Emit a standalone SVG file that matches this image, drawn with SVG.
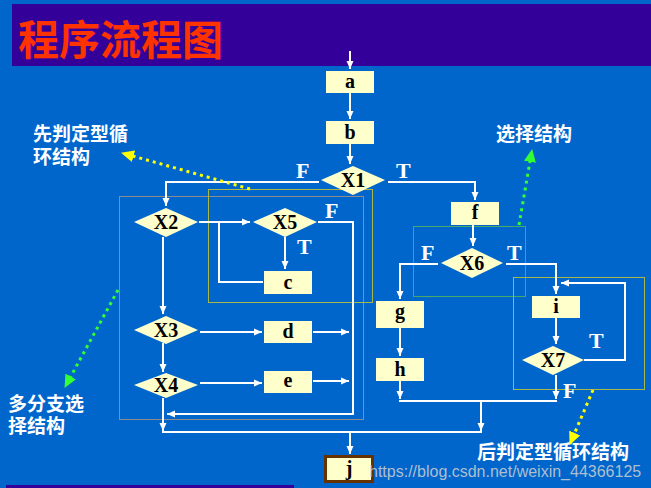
<svg xmlns="http://www.w3.org/2000/svg" width="651" height="488" viewBox="0 0 651 488">
<defs>
<marker id="ah" markerUnits="userSpaceOnUse" markerWidth="9" markerHeight="8" refX="8" refY="4" orient="auto"><path d="M0,0.5 L8,4 L0,7.5 z" fill="#FFFFFF"/></marker>
<marker id="ay" markerUnits="userSpaceOnUse" markerWidth="14" markerHeight="12" refX="12" refY="6" orient="auto"><path d="M0,0 L13,6 L0,12 z" fill="#FFFF00"/></marker>
<marker id="ag" markerUnits="userSpaceOnUse" markerWidth="14" markerHeight="12" refX="12" refY="6" orient="auto"><path d="M0,0 L13,6 L0,12 z" fill="#33FF33"/></marker>
</defs>
<style>
.box{fill:#FFFFCC;}
.lbl{font-family:"Liberation Serif",serif;font-weight:bold;font-size:20px;fill:#000;text-anchor:middle;}
.tf{font-family:"Liberation Serif",serif;font-weight:bold;font-size:22px;fill:#FFFFFF;}
.cn{font-family:"Liberation Sans","Noto Sans CJK SC",sans-serif;font-weight:bold;font-size:19px;fill:#FFFFFF;}
.ln{fill:none;stroke:#FFFFFF;stroke-width:2;}
.ar{marker-end:url(#ah);}
.frame{fill:none;stroke-width:1;}
</style>
<rect x="0" y="0" width="651" height="488" fill="#0066CC"/>
<rect x="12" y="4" width="639" height="62" fill="#330099"/>
<rect x="6" y="485" width="288" height="3" fill="#330099"/>
<text x="18" y="55" font-family="Liberation Sans,'Noto Sans CJK SC',sans-serif" font-weight="bold" font-size="41" fill="#FF3300">程序流程图</text>

<g id="frames">
<rect class="frame" x="119.5" y="196.5" width="244" height="223" stroke="#8C8C8C"/>
<rect class="frame" x="208.5" y="189.5" width="164" height="113" stroke="#A8B848"/>
<rect class="frame" x="413.5" y="226.5" width="112" height="70" stroke="#44AA66"/>
<rect class="frame" x="513.5" y="277.5" width="131" height="112" stroke="#A8B848"/>
</g>

<g id="connectors">
<path class="ln ar" d="M350,51 V69"/>
<path class="ln ar" d="M350,93 V119"/>
<path class="ln ar" d="M350,144 V164"/>
<path class="ln ar" d="M319,182 H166 V206"/>
<path class="ln ar" d="M388,182 H475 V200"/>
<path class="ln ar" d="M199,222 H250"/>
<path class="ln" d="M263,282 H219 V222"/>
<path class="ln ar" d="M285,237 V269"/>
<path class="ln ar" d="M318,222 H353 V414 H167"/>
<path class="ln ar" d="M163,237 V314"/>
<path class="ln ar" d="M200,332 H262"/>
<path class="ln ar" d="M313,332 H349"/>
<path class="ln ar" d="M163,343 V372"/>
<path class="ln ar" d="M200,383 H262"/>
<path class="ln ar" d="M313,381 H349"/>
<path class="ln ar" d="M163,398 V431"/>
<path class="ln" d="M162,432 H482"/>
<path class="ln ar" d="M481,401 V431"/>
<path class="ln ar" d="M350,432 V454"/>
<path class="ln ar" d="M473,225 V246"/>
<path class="ln ar" d="M438,264 H400 V299"/>
<path class="ln ar" d="M400,328 V356"/>
<path class="ln ar" d="M400,381 V399"/>
<path class="ln" d="M399,401 H557"/>
<path class="ln ar" d="M506,264 H556 V294"/>
<path class="ln ar" d="M556,318 V344"/>
<path class="ln ar" d="M584,360 H625 V283 H561"/>
<path class="ln ar" d="M556,375 V399"/>
<path fill="none" stroke="#FFFF00" stroke-width="3" stroke-dasharray="3 4" marker-end="url(#ay)" d="M250,189 L122,153"/>
<path fill="none" stroke="#33FF33" stroke-width="3" stroke-dasharray="3 4" marker-end="url(#ag)" d="M118,290 L65,387"/>
<path fill="none" stroke="#33FF33" stroke-width="3" stroke-dasharray="3 4" marker-end="url(#ag)" d="M519,225 L532,150"/>
<path fill="none" stroke="#FFFF00" stroke-width="3" stroke-dasharray="3 4" marker-end="url(#ay)" d="M593,390 L570,444"/>
</g>

<g id="a"><rect class="box" x="326" y="71" width="48" height="22"/><text class="lbl" x="350" y="88">a</text></g>
<g id="b"><rect class="box" x="326" y="121" width="48" height="23"/><text class="lbl" x="350" y="139">b</text></g>
<g id="X1"><polygon class="box" points="321,180 353,166 385,180 353,195"/><text class="lbl" x="353" y="187">X1</text></g>
<g id="X2"><polygon class="box" points="134,222 166,208 198,222 166,237"/><text class="lbl" x="166" y="229">X2</text></g>
<g id="X5"><polygon class="box" points="253,222 285,208 317,222 285,237"/><text class="lbl" x="285" y="229">X5</text></g>
<g id="c"><rect class="box" x="264" y="271" width="48" height="23"/><text class="lbl" x="288" y="289">c</text></g>
<g id="X3"><polygon class="box" points="134,330 166,316 198,330 166,344"/><text class="lbl" x="166" y="337">X3</text></g>
<g id="d"><rect class="box" x="264" y="321" width="48" height="22"/><text class="lbl" x="288" y="338">d</text></g>
<g id="X4"><polygon class="box" points="134,385 166,373 198,385 166,398"/><text class="lbl" x="166" y="392">X4</text></g>
<g id="e"><rect class="box" x="264" y="371" width="48" height="22"/><text class="lbl" x="288" y="387">e</text></g>
<g id="f"><rect class="box" x="451" y="202" width="48" height="23"/><text class="lbl" x="475" y="219">f</text></g>
<g id="X6"><polygon class="box" points="441,263 472,248 503,263 472,278"/><text class="lbl" x="472" y="270">X6</text></g>
<g id="g"><rect class="box" x="376" y="301" width="48" height="27"/><text class="lbl" x="400" y="318">g</text></g>
<g id="h"><rect class="box" x="376" y="358" width="48" height="23"/><text class="lbl" x="400" y="376">h</text></g>
<g id="i"><rect class="box" x="532" y="296" width="48" height="22"/><text class="lbl" x="556" y="313">i</text></g>
<g id="X7"><polygon class="box" points="522,360 553,346 584,360 553,375"/><text class="lbl" x="553" y="367">X7</text></g>
<g id="j"><rect x="325.5" y="456.5" width="47" height="25" fill="#FFFFCC" stroke="#663300" stroke-width="3"/><text class="lbl" x="349" y="475">j</text></g>

<g id="tf-labels">
<text class="tf" x="296" y="178">F</text>
<text class="tf" x="396" y="178">T</text>
<text class="tf" x="325" y="218">F</text>
<text class="tf" x="297" y="254">T</text>
<text class="tf" x="421" y="260">F</text>
<text class="tf" x="507" y="260">T</text>
<text class="tf" x="589" y="348">T</text>
<text class="tf" x="563" y="398">F</text>
</g>

<g id="notes">
<text class="cn" x="33" y="141">先判定型循</text>
<text class="cn" x="33" y="164">环结构</text>
<text class="cn" x="496" y="141">选择结构</text>
<text class="cn" x="8" y="411">多分支选</text>
<text class="cn" x="8" y="433">择结构</text>
<text class="cn" x="477" y="459" font-size="18.5">后判定型循环结构</text>
</g>
<text x="369" y="477" font-family="Liberation Sans,sans-serif" font-size="16" fill="#D0D0D0" fill-opacity="0.85">https://blog.csdn.net/weixin_44366125</text>
</svg>
